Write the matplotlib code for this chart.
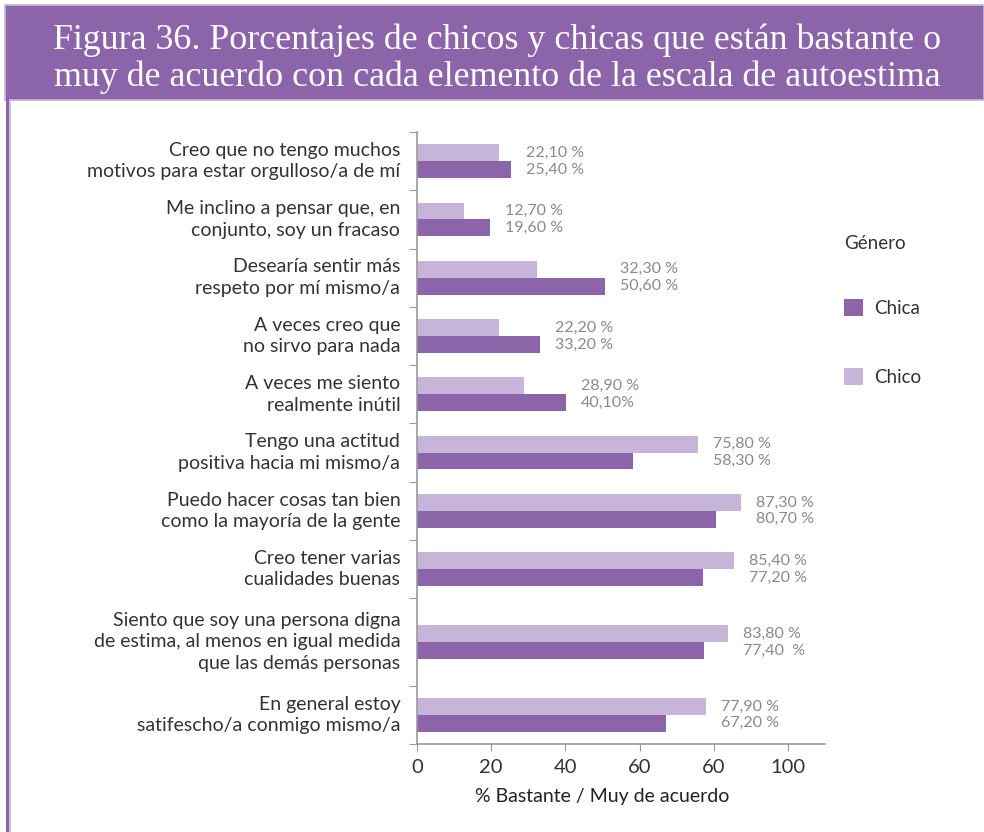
import numpy as np
import matplotlib.pyplot as plt
from matplotlib.patches import Rectangle
from matplotlib.lines import Line2D

# --- Data ---
categories = [
    "Creo que no tengo muchos\nmotivos para estar orgulloso/a de mí",
    "Me inclino a pensar que, en\nconjunto, soy un fracaso",
    "Desearía sentir más\nrespeto por mí mismo/a",
    "A veces creo que\nno sirvo para nada",
    "A veces me siento\nrealmente inútil",
    "Tengo una actitud\npositiva hacia mi mismo/a",
    "Puedo hacer cosas tan bien\ncomo la mayoría de la gente",
    "Creo tener varias\ncualidades buenas",
    "Siento que soy una persona digna\nde estima, al menos en igual medida\nque las demás personas",
    "En general estoy\nsatifescho/a conmigo mismo/a",
]
chico = [22.1, 12.7, 32.3, 22.2, 28.9, 75.8, 87.3, 85.4, 83.8, 77.9]
chica = [25.4, 19.6, 50.6, 33.2, 40.1, 58.3, 80.7, 77.2, 77.4, 67.2]
chico_labels = ["22,10 %", "12,70 %", "32,30 %", "22,20 %", "28,90 %",
                "75,80 %", "87,30 %", "85,40 %", "83,80 %", "77,90 %"]
chica_labels = ["25,40 %", "19,60 %", "50,60 %", "33,20 %", "40,10%",
                "58,30 %", "80,70 %", "77,20 %", "77,40  %", "67,20 %"]
xticks = [0, 20, 40, 60, 80, 100]
xticklabels = ["0", "20", "40", "60", "60", "100"]

# --- Style ---
DARK = "#8C64A9"
LIGHT = "#C6B5D9"
TXT = "#333333"
VAL = "#8A8A8A"
SANS = ["Lato", "DejaVu Sans"]
plt.rcParams['font.family'] = SANS

W, H = 984, 832
fig = plt.figure(figsize=(W / 100, H / 100), dpi=100)

# title banner and left border
fig.patches.append(Rectangle((5 / W, 1 - 100 / H), 1 - 5 / W, 95 / H,
                             transform=fig.transFigure, facecolor=DARK,
                             edgecolor=LIGHT, linewidth=1.2, zorder=0))
fig.add_artist(Line2D([7 / W, 7 / W], [0, 1 - 100 / H], color=DARK, lw=2.2))
fig.add_artist(Line2D([9.5 / W, 9.5 / W], [0, 1 - 100 / H], color=LIGHT, lw=1.2))
fig.text(0.505, 1 - 40 / H,
         "Figura 36. Porcentajes de chicos y chicas que están bastante o",
         ha="center", va="center", color="white", fontsize=25.8,
         family="Liberation Serif")
fig.text(0.505, 1 - 77 / H,
         "muy de acuerdo con cada elemento de la escala de autoestima",
         ha="center", va="center", color="white", fontsize=25.8,
         family="Liberation Serif")

# --- Axes ---
ax = fig.add_axes([417 / W, 1 - 744 / H, (825 - 417) / W, (744 - 132) / H])

# row heights: taller row for three-line labels
heights = np.array([1.5 if c.count("\n") >= 2 else 1.0 for c in categories])
bounds = np.concatenate([[0], np.cumsum(heights)])
centers = bounds[:-1] + heights / 2
bh = 0.29

ax.barh(centers - bh / 2, chico, height=bh, color=LIGHT, label="Chico")
ax.barh(centers + bh / 2, chica, height=bh, color=DARK, label="Chica")

for c, v1, v2, l1, l2 in zip(centers, chico, chica, chico_labels, chica_labels):
    xl = max(v1, v2) + 4
    ax.text(xl, c - bh / 2, l1, va="center", ha="left", color=VAL, fontsize=11.5)
    ax.text(xl, c + bh / 2, l2, va="center", ha="left", color=VAL, fontsize=11.5)

ax.set_xlim(0, 110)
ax.set_ylim(bounds[-1], 0)

ax.set_yticks(bounds)
ax.set_yticklabels([])
ax.set_yticks(centers, minor=True)
ax.set_yticklabels(categories, minor=True, fontsize=14, color=TXT,
                   linespacing=1.32, va="center")
ax.tick_params(axis="y", which="minor", length=0, pad=12)
ax.tick_params(axis="y", which="major", length=6, color="#999999")

ax.set_xticks(xticks)
ax.set_xticklabels(xticklabels, fontsize=14.5, color=TXT)
ax.tick_params(axis="x", length=5, color="#999999", pad=6)
ax.set_xlabel("% Bastante / Muy de acuerdo", fontsize=14, color="#222222")
ax.xaxis.set_label_coords(50 / 110, -0.072)

for s in ["top", "right"]:
    ax.spines[s].set_visible(False)
for s in ["left", "bottom"]:
    ax.spines[s].set_color("#999999")
    ax.spines[s].set_linewidth(1.2)

# legend
h, l = ax.get_legend_handles_labels()
leg = fig.legend(h[::-1], l[::-1], title="Género", loc="upper left",
                 bbox_to_anchor=(827 / W, 1 - 218 / H), frameon=False,
                 fontsize=13.5, title_fontsize=13.5, handlelength=1.0,
                 handleheight=1.0, handletextpad=0.6, labelspacing=2.75,
                 alignment="left")
for t in leg.get_texts():
    t.set_color(TXT)
leg.get_title().set_color(TXT)
leg._legend_box.sep = 34

fig.savefig("out.png", dpi=100)
